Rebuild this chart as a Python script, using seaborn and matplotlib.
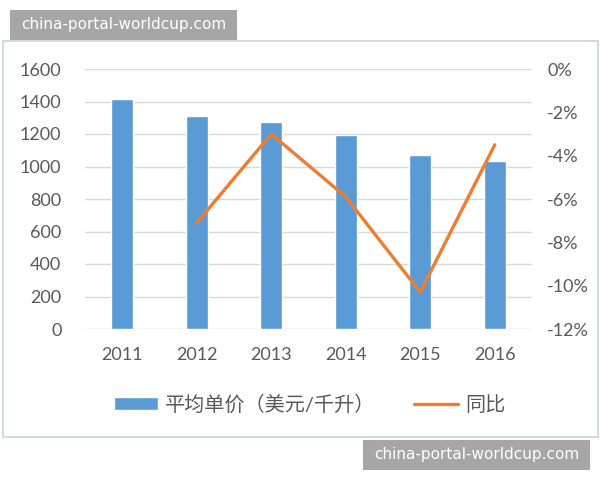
import numpy as np
import pandas as pd
import seaborn as sns
import matplotlib.pyplot as plt
from matplotlib.patches import Rectangle
from matplotlib.ticker import PercentFormatter

# values
years = [2011, 2012, 2013, 2014, 2015, 2016]
avg_price = [1415, 1313, 1271, 1196, 1068, 1031]
yoy = [np.nan, -0.071, -0.030, -0.059, -0.103, -0.035]
price_label = '平均单价（美元/千升）'
yoy_label = '同比'
watermark = 'china-portal-worldcup.com'

sns.set_theme(style='white')
plt.rcParams['font.family'] = ['Lato', 'Noto Sans CJK SC', 'DejaVu Sans']
plt.rcParams['axes.unicode_minus'] = False

blue = '#5B9BD5'
orange = '#ED7D31'
grey_txt = '#595959'

df = pd.DataFrame({'year': years, 'price': avg_price, 'yoy': yoy})

fig = plt.figure(figsize=(6, 4.8), dpi=100)
ax = fig.add_axes([85 / 600, 1 - 329 / 480, 447 / 600, 260 / 480])

sns.barplot(data=df, x='year', y='price', native_scale=True, width=0.3,
            color=blue, saturation=1, ax=ax, label=price_label)
ax.set_xlim(2010.5, 2016.5)
ax.set_ylim(0, 1600)
ax.set_yticks(range(0, 1601, 200))
ax.set_xticks(years)
ax.set_xticklabels([str(y) for y in years])
ax.grid(axis='y', color='#d9d9d9', lw=1)
ax.set_axisbelow(True)
ax.tick_params(axis='y', labelsize=13, labelcolor=grey_txt, pad=17, length=0)
ax.tick_params(axis='x', labelsize=13, labelcolor=grey_txt, pad=13, length=0)
ax.set_xlabel('')
ax.set_ylabel('')
sns.despine(ax=ax, left=True, bottom=True)

ax2 = ax.twinx()
sns.lineplot(data=df, x='year', y='yoy', color=orange, lw=2.4, ax=ax2, label=yoy_label)
ax2.set_ylim(-0.12, 0)
ax2.set_yticks(np.arange(-0.12, 0.001, 0.02))
ax2.yaxis.set_major_formatter(PercentFormatter(xmax=1, decimals=0))
ax2.tick_params(axis='y', labelsize=13, labelcolor=grey_txt, pad=11, length=0)
ax2.set_ylabel('')
ax2.grid(False)
for s in ax2.spines.values():
    s.set_visible(False)
ax2.get_legend().remove()

# combined legend under the chart
h1, l1 = ax.get_legend_handles_labels()
h2, l2 = ax2.get_legend_handles_labels()
if ax.get_legend() is not None:
    ax.get_legend().remove()
fig.legend(h1 + h2, l1 + l2, loc='center', bbox_to_anchor=(309.5 / 600, 1 - 404 / 480),
           ncol=2, frameon=False, fontsize=14.5, handlelength=2.2, handleheight=0.6,
           columnspacing=1.9, handletextpad=0.35, labelcolor=grey_txt)

# frame around the chart
fig.patches.append(Rectangle((3 / 600, 1 - 437 / 480), 595 / 600, 396 / 480,
                             transform=fig.transFigure, fill=False,
                             edgecolor='#cfdcdc', lw=1.5))

# watermark boxes
for x0, y0 in [(10, 10), (363, 440)]:
    fig.patches.append(Rectangle((x0 / 600, 1 - (y0 + 30) / 480), 227 / 600, 30 / 480,
                                 transform=fig.transFigure, facecolor='#a6a6a6',
                                 edgecolor='none'))
    fig.text((x0 + 113.5) / 600, 1 - (y0 + 15) / 480, watermark, color='white',
             fontsize=11, ha='center', va='center', family='DejaVu Sans')

fig.savefig('out.png', dpi=100)
